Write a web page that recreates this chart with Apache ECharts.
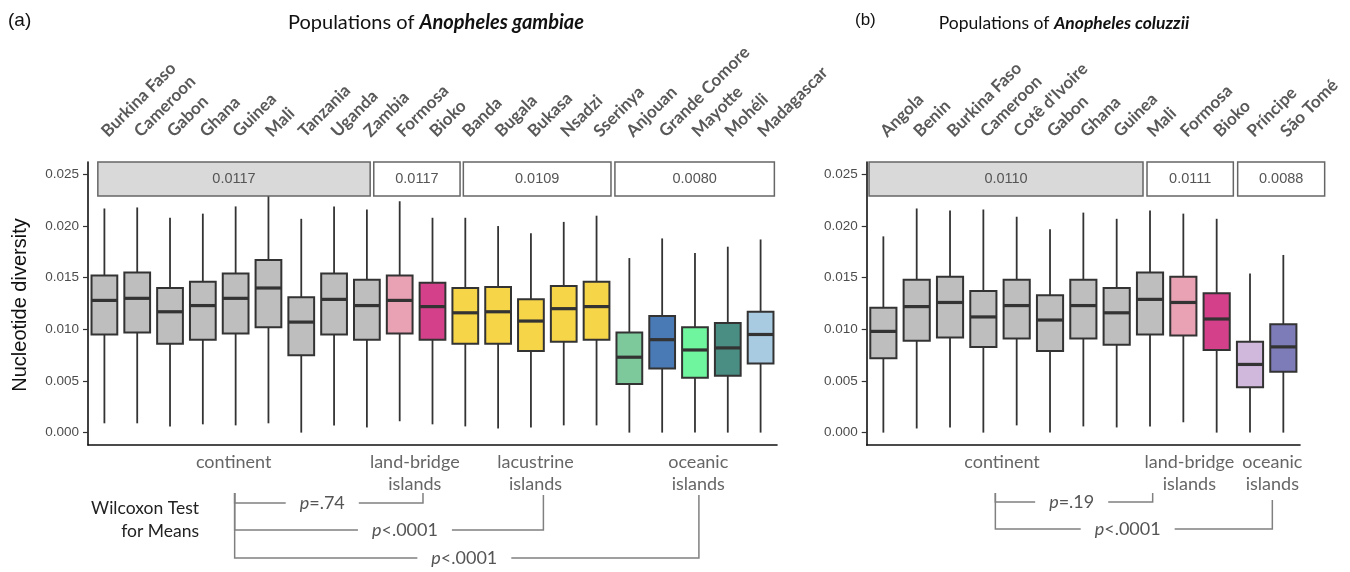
<!DOCTYPE html>
<html>
<head>
<meta charset="utf-8">
<script src="https://cdn.jsdelivr.net/npm/echarts@6/dist/echarts.min.js"></script>
<style>html,body{margin:0;padding:0;background:#fff}#c{width:1350px;height:572px}</style>
</head>
<body>
<div id="c"></div>
<script>
// ---------------- DATA ----------------
const yTicks = [0, 0.005, 0.01, 0.015, 0.02, 0.025];

const gambiaeCats = ['Burkina Faso','Cameroon','Gabon','Ghana','Guinea','Mali','Tanzania','Uganda','Zambia','Formosa','Bioko','Banda','Bugala','Bukasa','Nsadzi','Sserinya','Anjouan','Grande Comore','Mayotte','Mohéli','Madagascar'];
// [min, Q1, median, Q3, max]
const gambiaeBoxes = [
  [0.0009,0.0095,0.0128,0.0152,0.0217],
  [0.0009,0.0097,0.0130,0.0155,0.0218],
  [0.0006,0.0086,0.0117,0.0140,0.0208],
  [0.0008,0.0090,0.0123,0.0146,0.0212],
  [0.0007,0.0096,0.0130,0.0154,0.0219],
  [0.0009,0.0102,0.0140,0.0167,0.0240],
  [0.0000,0.0075,0.0107,0.0131,0.0207],
  [0.0007,0.0095,0.0129,0.0154,0.0219],
  [0.0005,0.0090,0.0123,0.0148,0.0216],
  [0.0011,0.0096,0.0128,0.0152,0.0224],
  [0.0008,0.0090,0.0122,0.0145,0.0208],
  [0.0006,0.0086,0.0116,0.0140,0.0208],
  [0.0004,0.0086,0.0117,0.0141,0.0200],
  [0.0005,0.0079,0.0108,0.0129,0.0193],
  [0.0007,0.0088,0.0120,0.0142,0.0204],
  [0.0007,0.0090,0.0122,0.0146,0.0210],
  [0.0000,0.0047,0.0073,0.0097,0.0169],
  [0.0000,0.0062,0.0090,0.0113,0.0188],
  [0.0000,0.0053,0.0080,0.0102,0.0174],
  [0.0000,0.0055,0.0082,0.0106,0.0180],
  [0.0000,0.0067,0.0095,0.0117,0.0187]
];
const gambiaeGroups = ['continent','land-bridge\nislands','lacustrine\nislands','oceanic\nislands'];
const gambiaeMeans = ['0.0117','0.0117','0.0109','0.0080'];
const gambiaeTests = ['=.74','<.0001','<.0001'];

const coluzziiCats = ['Angola','Benin','Burkina Faso','Cameroon',"Cotê d'Ivoire",'Gabon','Ghana','Guinea','Mali','Formosa','Bioko','Príncipe','São Tomé'];
const coluzziiBoxes = [
  [0.0000,0.0072,0.0098,0.0121,0.0190],
  [0.0004,0.0089,0.0122,0.0148,0.0217],
  [0.0005,0.0092,0.0126,0.0151,0.0215],
  [0.0000,0.0083,0.0112,0.0137,0.0216],
  [0.0007,0.0091,0.0123,0.0148,0.0209],
  [0.0000,0.0079,0.0109,0.0133,0.0197],
  [0.0006,0.0091,0.0123,0.0148,0.0213],
  [0.0005,0.0085,0.0116,0.0140,0.0207],
  [0.0006,0.0095,0.0129,0.0155,0.0215],
  [0.0010,0.0094,0.0126,0.0151,0.0212],
  [0.0000,0.0080,0.0110,0.0135,0.0207],
  [0.0000,0.0044,0.0066,0.0088,0.0154],
  [0.0000,0.0059,0.0083,0.0105,0.0172]
];
const coluzziiGroups = ['continent','land-bridge\nislands','oceanic\nislands'];
const coluzziiMeans = ['0.0110','0.0111','0.0088'];
const coluzziiTests = ['=.19','<.0001'];

// ---------------- STYLE / LAYOUT ----------------
const GREY = '#bebebe', PINK = '#e9a1b4', MAG = '#d5408a', YEL = '#f7d548';
const gambiaeColors = [GREY,GREY,GREY,GREY,GREY,GREY,GREY,GREY,GREY,PINK,MAG,YEL,YEL,YEL,YEL,YEL,'#7ec99b','#4a7ab5','#70f59f','#4a8d83','#a9cbe2'];
const coluzziiColors = [GREY,GREY,GREY,GREY,GREY,GREY,GREY,GREY,GREY,PINK,MAG,'#d0b8dc','#7d7bb8'];

const Y_MIN = -0.0012, Y_MAX = 0.0262, HEAD_LO = 0.0229;
const TOP = 162, H = 283;
const panels = [
  { left: 88, width: 689, cats: gambiaeCats, boxes: gambiaeBoxes, colors: gambiaeColors,
    groups: gambiaeGroups, means: gambiaeMeans, tests: gambiaeTests,
    headSpans: [[-0.2,8.1],[8.21,10.84],[10.94,15.44],[15.56,20.42]],
    labelX: [3.94, 9.46, 13.14, 18.1],
    brStart: 3.97, brEnds: [9.71, 13.38, 18.12], brTops: [48, 50, 50], brLevels: [58, 85, 113], pX: [6.64, 9.16, 10.97] },
  { left: 866.7, width: 433.3, cats: coluzziiCats, boxes: coluzziiBoxes, colors: coluzziiColors,
    groups: coluzziiGroups, means: coluzziiMeans, tests: coluzziiTests,
    headSpans: [[-0.43,7.79],[7.91,10.5],[10.63,13.24]],
    labelX: [3.56, 9.18, 11.67],
    brStart: 3.36, brEnds: [8.08, 11.67], brTops: [48, 55], brLevels: [57, 84], pX: [5.65, 7.33] }
];

const SANS = '"Liberation Sans", Arial, sans-serif';
const CAL = 'Lato, "Open Sans", sans-serif';

const chart = echarts.init(document.getElementById('c'), null, { renderer: 'canvas' });

const grid = [], xAxis = [], yAxis = [], series = [];
panels.forEach((p, k) => {
  const n = p.cats.length;
  grid.push({ left: p.left, top: TOP, width: p.width, height: H, containLabel: false });
  xAxis.push({ type: 'category', gridIndex: k, position: 'bottom', data: p.cats,
    axisLine: { onZero: false, lineStyle: { color: '#111', width: 1.6 } },
    axisTick: { alignWithLabel: true, length: 3, lineStyle: { color: '#333', width: 1 } },
    axisLabel: { show: false }, splitLine: { show: false } });
  xAxis.push({ type: 'category', gridIndex: k, position: 'top', data: p.cats,
    axisLine: { show: false, onZero: false }, axisTick: { show: false },
    axisLabel: { show: true, interval: 0, rotate: -45, margin: 28, color: '#595959',
      fontFamily: CAL, fontWeight: 'bold', fontSize: 17 } });
  xAxis.push({ type: 'value', gridIndex: k, show: false, min: -0.5, max: n - 0.5, axisLine: { onZero: false } });
  yAxis.push({ type: 'value', gridIndex: k, min: Y_MIN, max: Y_MAX,
    axisLine: { show: true, onZero: false, lineStyle: { color: '#111', width: 1.6 } },
    axisTick: { show: true, length: 5, customValues: yTicks, lineStyle: { color: '#333', width: 1.2 } },
    axisLabel: { show: true, customValues: yTicks, margin: 9, color: '#4d4d4d', fontFamily: SANS, fontSize: 13.5,
      formatter: v => v.toFixed(3) },
    splitLine: { show: false } });

  const vx = k * 3 + 2;
  // boxes
  series.push({ type: 'custom', xAxisIndex: vx, yAxisIndex: k, z: 2,
    data: p.boxes.map((b, i) => [i].concat(b)),
    encode: { x: 0, y: [1, 2, 3, 4, 5] },
    renderItem: (params, api) => {
      const i = api.value(0);
      const lo = api.coord([i, api.value(1)]), q1 = api.coord([i, api.value(2)]),
            md = api.coord([i, api.value(3)]), q3 = api.coord([i, api.value(4)]), hi = api.coord([i, api.value(5)]);
      const w = api.size([1, 0])[0] * 0.785, x = lo[0];
      const ln = { stroke: '#333', lineWidth: 1.8 };
      return { type: 'group', children: [
        { type: 'line', shape: { x1: x, y1: hi[1], x2: x, y2: q3[1] }, style: ln },
        { type: 'line', shape: { x1: x, y1: q1[1], x2: x, y2: lo[1] }, style: ln },
        { type: 'rect', shape: { x: x - w / 2, y: q3[1], width: w, height: q1[1] - q3[1] },
          style: { fill: p.colors[params.dataIndex], stroke: '#333', lineWidth: 2 } },
        { type: 'line', shape: { x1: x - w / 2, y1: md[1], x2: x + w / 2, y2: md[1] }, style: { stroke: '#333', lineWidth: 3.2 } }
      ] };
    } });
  // group mean header boxes
  series.push({ type: 'custom', xAxisIndex: vx, yAxisIndex: k, z: 5,
    data: p.headSpans.map(s => [s[0], s[1]]),
    renderItem: (params, api) => {
      const a = api.coord([api.value(0), Y_MAX]), b = api.coord([api.value(1), HEAD_LO]);
      return { type: 'group', children: [
        { type: 'rect', shape: { x: a[0], y: a[1], width: b[0] - a[0], height: b[1] - a[1] },
          style: { fill: params.dataIndex === 0 ? '#d9d9d9' : '#ffffff', stroke: '#666', lineWidth: 1.5 } },
        { type: 'text', x: (a[0] + b[0]) / 2, y: (a[1] + b[1]) / 2,
          style: { text: p.means[params.dataIndex], fill: '#555', font: '14.5px ' + SANS, align: 'center', verticalAlign: 'middle' } }
      ] };
    } });
  // below-axis annotation: group names + Wilcoxon brackets
  series.push({ type: 'custom', xAxisIndex: vx, yAxisIndex: k, z: 5, clip: false, silent: true,
    data: [[0, 0]],
    renderItem: (params, api) => {
      const base = api.coord([0, Y_MIN])[1];
      const cx = v => api.coord([v, 0])[0];
      const ch = [];
      p.groups.forEach((g, j) => {
        ch.push({ type: 'text', x: cx(p.labelX[j]), y: base + 6,
          style: { text: g, fill: '#666', font: '18px ' + CAL, align: 'center', verticalAlign: 'top', lineHeight: 22 } });
      });
      const x0 = cx(p.brStart);
      p.tests.forEach((t, j) => {
        const x1 = cx(p.brEnds[j]), ly = base + p.brLevels[j];
        ch.push({ type: 'polyline', shape: { points: [[x0, base + 48], [x0, ly], [x1, ly], [x1, base + p.brTops[j]]] },
          style: { stroke: '#808080', lineWidth: 1.5, fill: null } });
        ch.push({ type: 'text', x: cx(p.pX[j]), y: ly, z2: 10,
          style: { text: '{i|p}' + t, rich: { i: { fontStyle: 'italic', fontFamily: CAL, fontSize: 18, fill: '#555' } },
            fill: '#555', font: '18px ' + CAL, align: 'center', verticalAlign: 'middle',
            backgroundColor: '#fff', padding: [0, 14] } });
      });
      return { type: 'group', children: ch };
    } });
});

const option = {
  animation: false,
  backgroundColor: '#fff',
  grid, xAxis, yAxis, series,
  graphic: [
    { type: 'text', left: 8, top: 11, style: { text: '(a)', font: '19px ' + SANS, fill: '#111' } },
    { type: 'text', left: 855, top: 12, style: { text: '(b)', font: '17px ' + SANS, fill: '#111' } },
    { type: 'text', x: 436, y: 23, style: { text: 'Populations of {b|Anopheles gambiae}', font: '20px ' + CAL, fill: '#111',
      align: 'center', verticalAlign: 'middle', rich: { b: { fontWeight: 'bold', fontStyle: 'italic', fontSize: 20, fontFamily: CAL, fill: '#111' } } } },
    { type: 'text', x: 1064, y: 23, style: { text: 'Populations of {b|Anopheles coluzzii}', font: '17.5px ' + CAL, fill: '#111',
      align: 'center', verticalAlign: 'middle', rich: { b: { fontWeight: 'bold', fontStyle: 'italic', fontSize: 17.5, fontFamily: CAL, fill: '#111' } } } },
    { type: 'text', x: 20, y: 305, rotation: Math.PI / 2, style: { text: 'Nucleotide diversity', font: '20px ' + SANS, fill: '#111',
      align: 'center', verticalAlign: 'middle' } },
    { type: 'text', x: 199, y: 508, style: { text: 'Wilcoxon Test', font: '17.5px ' + CAL, fill: '#222', align: 'right', verticalAlign: 'middle' } },
    { type: 'text', x: 199, y: 531, style: { text: 'for Means', font: '17.5px ' + CAL, fill: '#222', align: 'right', verticalAlign: 'middle' } }
  ]
};
chart.setOption(option);
</script>
</body>
</html>
